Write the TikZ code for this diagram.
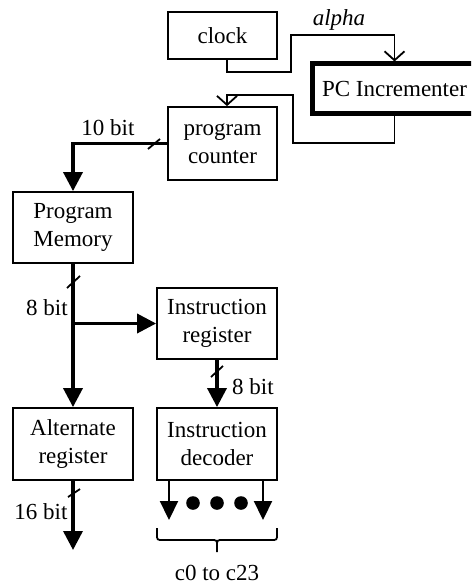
\documentclass[tikz,border=0pt]{standalone}
\usepackage{fontspec}
\setmainfont{Liberation Serif}
\usetikzlibrary{arrows.meta}
\begin{document}
\begin{tikzpicture}[x=1pt,y=-1pt,
  font=\fontsize{23}{28}\selectfont,
  blk/.style={draw,line width=1.8pt,inner sep=0pt,align=center},
  bus/.style={line width=3.5pt,-{Triangle[length=19pt,width=19pt]}},
  sig/.style={line width=2.2pt,-{Triangle[length=19pt,width=18pt]}},
  wire/.style={line width=1.8pt,-{Straight Barb[length=9pt,width=20pt]}},
  slash/.style={line width=1.8pt},
  lbl/.style={inner sep=0pt}]
\useasboundingbox (0,0) rectangle (471,586);
\clip (0,0) rectangle (471,586);
\fill[white] (0,0) rectangle (471,586);

\node[blk,minimum width=109pt,minimum height=47pt] (clock) at (222.5,35.5) {clock};
\node[blk,line width=5pt,minimum width=165pt,minimum height=49pt] (pcinc) at (394.5,88.5) {PC Incrementer};
\node[blk,minimum width=109pt,minimum height=73pt] (pc) at (222.5,143.5) {program\\counter};
\node[blk,minimum width=120pt,minimum height=71pt] (pm) at (73,227.5) {Program\\Memory};
\node[blk,minimum width=120pt,minimum height=71pt] (ir) at (217,323.5) {Instruction\\register};
\node[blk,minimum width=120pt,minimum height=72pt] (ar) at (73,444) {Alternate\\register};
\node[blk,minimum width=120pt,minimum height=72pt] (id) at (217,444) {Instruction\\decoder};

% clock -> PC incrementer
\draw[wire] ([xshift=4.5pt]clock.south) -- ++(0,12) -| (291,35) -| (pcinc.north);
\node[lbl,font=\fontsize{23}{28}\selectfont\itshape] (alpha) at (339,20) {alpha};

% PC incrementer -> program counter
\draw[wire] (pcinc.south) -- (pcinc.south |- 0,143) -| (293,95) -| ([xshift=4.5pt]pc.north);

% program counter -> program memory
\draw[bus] (pc.west) -| (pm.north);
\node[lbl] (l10) at (108,128) {10 bit};
\draw[slash] (148,149) -- (160,139);

% program memory -> alternate register, branch to instruction register
\coordinate (br) at (pm.south |- ir.west);
\draw[bus] (pm.south) -- (ar.north);
\draw[bus] (br) -- (ir.west);
\draw[slash] (67,288) -- (80,276);
\node[lbl] (l8a) at (47,308) {8 bit};

% instruction register -> decoder
\draw[bus] (ir.south) -- (id.north);
\draw[slash] (211,377) -- (223,366);
\node[lbl] (l8b) at (253,387) {8 bit};

% alternate register output
\coordinate (arout) at (73,550);
\draw[bus] (ar.south) -- (arout);
\draw[slash] (68,497) -- (80,489);
\node[lbl] (l16) at (41,512) {16 bit};

% decoder outputs
\coordinate (o1) at (169,520);
\coordinate (o2) at (263,520);
\draw[sig] (o1 |- id.south) -- (o1);
\draw[sig] (o2 |- id.south) -- (o2);
\fill (193,503) circle (6.8pt);
\fill (217,503) circle (6.8pt);
\fill (241,503) circle (6.8pt);

% brace
\draw[line width=1.8pt] (157,528) -- (157,534) .. controls (157,540) .. (163,540) -- (211,540)
  .. controls (217,540) .. (217,546) -- (217,552);
\draw[line width=1.8pt] (277,528) -- (277,534) .. controls (277,540) .. (271,540) -- (223,540)
  .. controls (217,540) .. (217,546);
\node[lbl] (cout) at (217,573) {c0 to c23};
\end{tikzpicture}
\end{document}
